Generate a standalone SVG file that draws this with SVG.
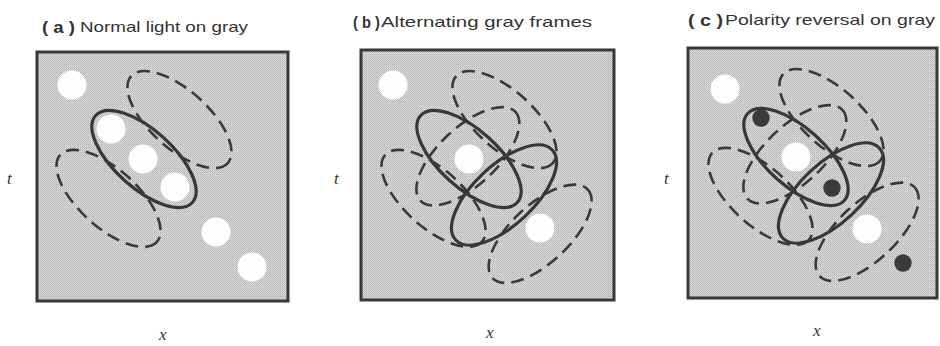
<svg xmlns="http://www.w3.org/2000/svg" width="940" height="346" viewBox="0 0 940 346">
<defs>
<pattern id="stip" width="2" height="2" patternUnits="userSpaceOnUse">
<rect width="2" height="2" fill="#d9d9d9"/>
<rect x="0" y="0" width="1" height="1" fill="#b2b2b2"/>
<rect x="1" y="1" width="1" height="1" fill="#c4c4c4"/>
</pattern>
</defs>
<style>
.frame{fill:url(#stip);stroke:#383838;stroke-width:3}
.sol{fill:none;stroke:#383838;stroke-width:3.2}
.dash{fill:none;stroke:#3a3a3a;stroke-width:2.6;stroke-dasharray:13 7}
.wd{fill:#fdfdfd}
.bd{fill:#3a3a3a}
.ttl{font-family:"Liberation Sans","DejaVu Sans",sans-serif;font-size:15px;fill:#333}
.lbl{font-family:"Liberation Serif",serif;font-style:italic;font-size:17px;fill:#333}
.par{font-family:"Liberation Sans","DejaVu Sans",sans-serif;font-size:17px;font-weight:bold;fill:#333}
</style>
<rect width="940" height="346" fill="#ffffff"/>

<g id="panel-a">
<text class="par" x="42" y="33" textLength="33" lengthAdjust="spacingAndGlyphs">( a )</text>
<text class="ttl" x="80" y="32" textLength="168" lengthAdjust="spacingAndGlyphs">Normal light on gray</text>
<text class="lbl" x="7" y="184">t</text>
<text class="lbl" x="159" y="340">x</text>
<rect class="frame" x="37" y="52" width="251" height="249"/>
<g id="a-dots">
<circle class="wd" cx="72" cy="85" r="14.5"/>
<circle class="wd" cx="111" cy="129" r="14.5"/>
<circle class="wd" cx="143" cy="159" r="14.5"/>
<circle class="wd" cx="175" cy="187" r="14.5"/>
<circle class="wd" cx="216" cy="232" r="14.5"/>
<circle class="wd" cx="252" cy="267" r="14.5"/>
</g>
<g id="a-field" transform="translate(144 159) rotate(42)">
<ellipse class="sol" cx="0" cy="0" rx="65" ry="29"/>
<ellipse class="dash" cx="0" cy="-53" rx="65" ry="29"/>
<ellipse class="dash" cx="0" cy="53" rx="65" ry="29"/>
</g>
</g>

<g id="panel-b">
<text class="par" x="353" y="28" textLength="27" lengthAdjust="spacingAndGlyphs">( b )</text>
<text class="ttl" x="381" y="27" textLength="211" lengthAdjust="spacingAndGlyphs">Alternating gray frames</text>
<text class="lbl" x="334" y="184">t</text>
<text class="lbl" x="486" y="338">x</text>
<rect class="frame" x="361" y="50" width="253" height="250"/>
<g id="b-dots">
<circle class="wd" cx="393" cy="85" r="14.5"/>
<circle class="wd" cx="469" cy="159" r="14.5"/>
<circle class="wd" cx="540" cy="228" r="14.5"/>
</g>
<g id="b-field-1" transform="translate(469 159) rotate(42)">
<ellipse class="sol" cx="0" cy="0" rx="65" ry="29"/>
<ellipse class="dash" cx="0" cy="-53" rx="65" ry="29"/>
<ellipse class="dash" cx="0" cy="53" rx="65" ry="29"/>
</g>
<g id="b-field-2" transform="translate(504 195) rotate(-43)">
<ellipse class="sol" cx="0" cy="0" rx="66" ry="30"/>
<ellipse class="dash" cx="0" cy="-53" rx="65" ry="29"/>
<ellipse class="dash" cx="0" cy="53" rx="65" ry="29"/>
</g>
</g>

<g id="panel-c">
<text class="par" x="688" y="26" textLength="35" lengthAdjust="spacingAndGlyphs">( c )</text>
<text class="ttl" x="725" y="25" textLength="210" lengthAdjust="spacingAndGlyphs">Polarity reversal on gray</text>
<text class="lbl" x="664" y="184">t</text>
<text class="lbl" x="813" y="336">x</text>
<rect class="frame" x="688" y="48" width="249" height="250"/>
<g id="c-dots">
<circle class="wd" cx="725" cy="89" r="14.5"/>
<circle class="bd" cx="761" cy="118" r="8.7"/>
<circle class="wd" cx="796" cy="157" r="14.5"/>
<circle class="bd" cx="832" cy="188" r="8.7"/>
<circle class="wd" cx="867" cy="229" r="14.5"/>
<circle class="bd" cx="903" cy="263" r="8.7"/>
</g>
<g id="c-field-1" transform="translate(796 157) rotate(42)">
<ellipse class="sol" cx="0" cy="0" rx="65" ry="29"/>
<ellipse class="dash" cx="0" cy="-53" rx="65" ry="29"/>
<ellipse class="dash" cx="0" cy="53" rx="65" ry="29"/>
</g>
<g id="c-field-2" transform="translate(831 193) rotate(-43)">
<ellipse class="sol" cx="0" cy="0" rx="66" ry="30"/>
<ellipse class="dash" cx="0" cy="-53" rx="65" ry="29"/>
<ellipse class="dash" cx="0" cy="53" rx="65" ry="29"/>
</g>
</g>
<g id="connectors"/>
</svg>
